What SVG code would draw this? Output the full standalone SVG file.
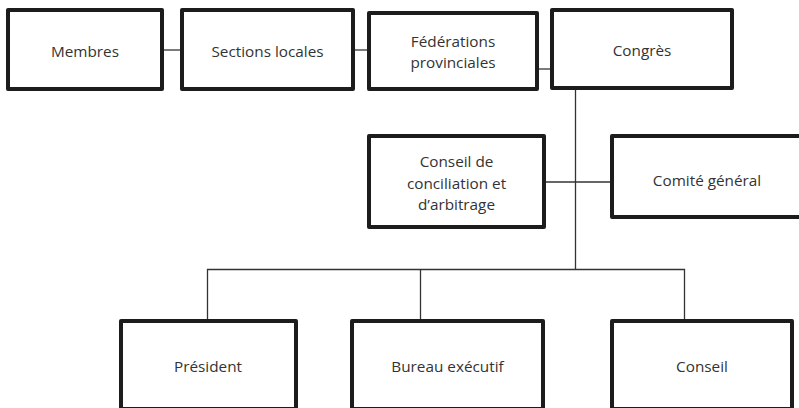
<svg xmlns="http://www.w3.org/2000/svg" width="799" height="408" viewBox="0 0 799 408">
  <style>
    .box { fill: #ffffff; stroke: #1c1c1c; stroke-width: 4; stroke-linejoin: round; }
    .lbl { font-family: "Open Sans", "Liberation Sans", sans-serif; font-size: 15.3px; fill: #333333; text-anchor: middle; }
    .wire { fill: none; stroke: #333333; stroke-width: 1.3; }
  </style>
  <rect width="799" height="408" fill="#ffffff"/>

  <!-- connectors -->
  <g id="connectors">
    <line class="wire" x1="162" y1="50" x2="182" y2="50"/>
    <line class="wire" x1="353" y1="50" x2="369" y2="50"/>
    <line class="wire" x1="537" y1="69" x2="552" y2="69"/>
    <line class="wire" x1="575.5" y1="88" x2="575.5" y2="269"/>
    <line class="wire" x1="544" y1="182" x2="612" y2="182"/>
    <polyline class="wire" points="207.5,321 207.5,269.5 684.5,269.5 684.5,321"/>
    <line class="wire" x1="420.5" y1="269.5" x2="420.5" y2="321"/>
  </g>

  <g id="membres">
    <rect class="box" x="8" y="10" width="154" height="79"/>
    <text class="lbl" x="85" y="57">Membres</text>
  </g>
  <g id="sections-locales">
    <rect class="box" x="182" y="10" width="171" height="79"/>
    <text class="lbl" x="267.5" y="57">Sections locales</text>
  </g>
  <g id="federations">
    <rect class="box" x="369" y="13" width="168" height="76"/>
    <text class="lbl" x="453" y="47">Fédérations</text>
    <text class="lbl" x="453" y="68">provinciales</text>
  </g>
  <g id="congres">
    <rect class="box" x="552" y="10" width="180" height="78"/>
    <text class="lbl" x="642" y="56">Congrès</text>
  </g>
  <g id="conseil-conciliation">
    <rect class="box" x="369" y="136" width="175" height="91"/>
    <text class="lbl" x="456.5" y="167">Conseil de</text>
    <text class="lbl" x="456.5" y="189">conciliation et</text>
    <text class="lbl" x="456.5" y="210">d’arbitrage</text>
  </g>
  <g id="comite-general">
    <rect class="box" x="612" y="136" width="200" height="81"/>
    <text class="lbl" x="707" y="186">Comité général</text>
  </g>
  <g id="president">
    <rect class="box" x="121" y="321" width="175" height="88"/>
    <text class="lbl" x="208" y="372">Président</text>
  </g>
  <g id="bureau-executif">
    <rect class="box" x="352" y="321" width="191" height="88"/>
    <text class="lbl" x="447.5" y="372">Bureau exécutif</text>
  </g>
  <g id="conseil">
    <rect class="box" x="612" y="321" width="180" height="88"/>
    <text class="lbl" x="702" y="372">Conseil</text>
  </g>
</svg>
